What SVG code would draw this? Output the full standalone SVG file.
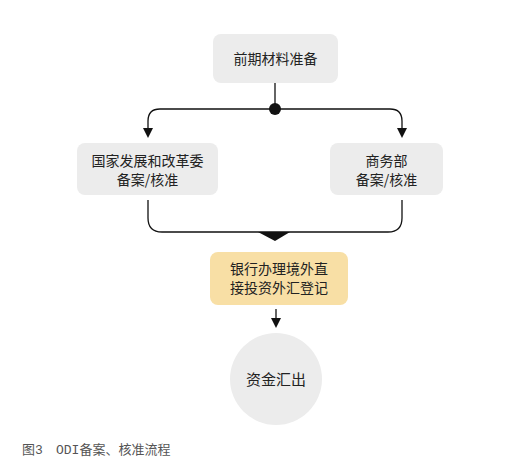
<svg xmlns="http://www.w3.org/2000/svg" width="513" height="474" viewBox="0 0 513 474">
<style>
.t{font-family:"Noto Sans CJK SC","Noto Sans",sans-serif;font-size:14px;fill:#222;text-anchor:middle}
.box{fill:#ececec}
.ln{fill:none;stroke:#111;stroke-width:1.3}
.cap{font-family:"Liberation Mono","Noto Sans CJK SC",monospace;font-size:13px;fill:#555}
</style>
<defs>
<marker id="ah" markerWidth="10" markerHeight="10" refX="5" refY="5" orient="auto" markerUnits="userSpaceOnUse">
<path d="M0,0 L10,5 L0,10 z" fill="#111"/>
</marker>
</defs>
<rect width="513" height="474" fill="#fff"/>
<g id="connectors">
<line class="ln" x1="275" y1="83" x2="275" y2="109"/>
<path class="ln" d="M275,109 H160 Q148,109 148,121 V133" marker-end="url(#ah)"/>
<path class="ln" d="M275,109 H390 Q402,109 402,121 V133" marker-end="url(#ah)"/>
<circle cx="275" cy="109" r="6" fill="#111"/>
<path class="ln" d="M148,200 V218 Q148,232 162,232 H388 Q402,232 402,218 V200"/>
<path d="M258,232 H290 L275,241 z" fill="#111"/>
<line class="ln" x1="276" y1="309" x2="276" y2="323" marker-end="url(#ah)"/>
</g>
<g id="node-prep">
<rect class="box" x="213" y="34" width="125" height="49" rx="8"/>
<text class="t" x="275.5" y="64">前期材料准备</text>
</g>
<g id="node-ndrc">
<rect class="box" x="77" y="143" width="141" height="52" rx="8"/>
<text class="t" x="147.5" y="166">国家发展和改革委</text>
<text class="t" x="147.5" y="185">备案/核准</text>
</g>
<g id="node-mofcom">
<rect class="box" x="330" y="143" width="113" height="52" rx="8"/>
<text class="t" x="386.5" y="166">商务部</text>
<text class="t" x="386.5" y="185">备案/核准</text>
</g>
<g id="node-bank">
<rect x="210" y="252" width="138" height="53" rx="8" fill="#f8dfa5"/>
<text class="t" x="279" y="274">银行办理境外直</text>
<text class="t" x="279" y="293">接投资外汇登记</text>
</g>
<g id="node-out">
<circle cx="276" cy="379" r="46" fill="#ececec"/>
<text class="t" x="276" y="385" style="font-size:15px">资金汇出</text>
</g>
<text class="cap" x="22" y="454">图3<tspan x="56">ODI备案、核准流程</tspan></text>
</svg>
